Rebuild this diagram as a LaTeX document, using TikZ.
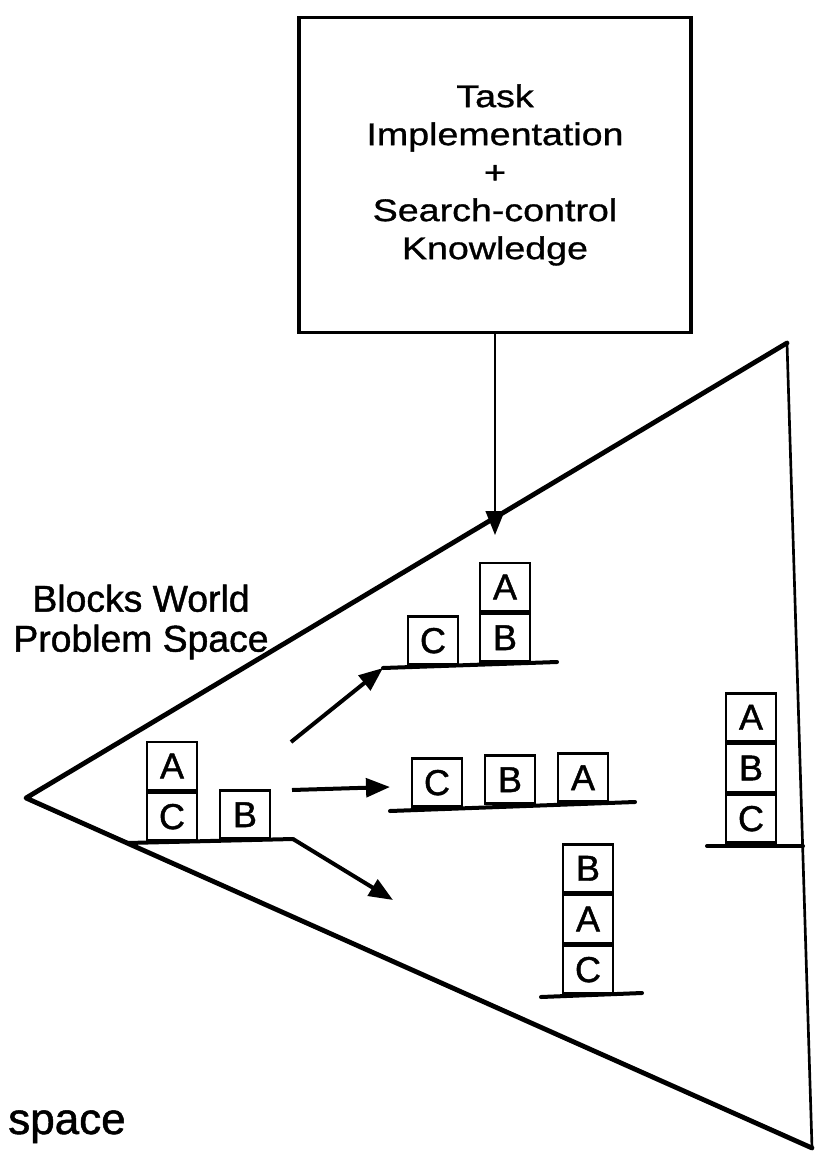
\documentclass[tikz,border=0pt]{standalone}
\usepackage{fontspec}
\setmainfont{Liberation Sans}
\newfontfamily\boxfont[FakeStretch=1.2,FakeBold=1]{Liberation Sans}
\newfontfamily\heavyfont[FakeBold=1.2]{Liberation Sans}
\usetikzlibrary{arrows.meta,calc}
\begin{document}
\begin{tikzpicture}[x=0.75pt,y=-0.75pt,
  block/.style={draw, line width=2pt, minimum width=37.5pt, minimum height=36pt, inner sep=0pt,
    font=\heavyfont\fontsize{27}{27}\selectfont},
  ground/.style={line width=3pt, line cap=round},
  arr/.style={line width=3pt, -{Triangle[length=18pt,width=14pt]}},
  varr/.style={line width=1.8pt, -{Triangle[length=18pt,width=14pt]}},
  edge/.style={line width=3.6pt, line join=round, line cap=round},
  redge/.style={line width=2pt, line cap=round}]
\useasboundingbox (0,0) rectangle (821,1152);

% task box
\node[draw, line width=2.6pt, minimum width=294pt, minimum height=236pt, align=center,
  font=\boxfont\fontsize{23.5}{28.5}\selectfont] (task) at (495,175)
  {Task\\Implementation\\+\\Search-control\\Knowledge};

% problem space triangle
\coordinate (L) at (26,798);
\coordinate (TR) at (787,343);
\coordinate (BR) at (812,1148);
\draw[edge] (TR) -- (L) -- (BR);
\draw[redge] (TR) -- (BR);

\draw[varr] (task.south) -- (task.south |- 0,535);

% label
\node[font=\heavyfont\fontsize{28}{30}\selectfont, align=center] (lbl) at (141,622) {Blocks World\\Problem Space};

% initial state
\coordinate (g1a) at (127,843);
\coordinate (g1b) at (293,839);
\node[block, anchor=south] (iC) at (172,842) {C};
\node[block, anchor=south] (iA) at (iC.north) {A};
\node[block, anchor=south] (iB) at (245,840) {B};
\draw[ground] (g1a) -- (g1b);

% top state
\coordinate (a1s) at (291,742);
\coordinate (g2a) at (383,668);
\coordinate (g2b) at (557,662);
\node[block, anchor=south] (tC) at (433,666) {C};
\node[block, anchor=south] (tB) at (505,663) {B};
\node[block, anchor=south] (tA) at (tB.north) {A};
\draw[ground] (g2a) -- (g2b);
\draw[arr] (a1s) -- (g2a);

% middle state
\coordinate (a2s) at (292,790);
\coordinate (a2e) at (390,787);
\coordinate (g3a) at (390,811);
\coordinate (g3b) at (635,802);
\node[block, anchor=south] (mC) at (437,808) {C};
\node[block, anchor=south] (mB) at (510,805) {B};
\node[block, anchor=south] (mA) at (583,803) {A};
\draw[ground] (g3a) -- (g3b);
\draw[arr] (a2s) -- (a2e);

% bottom state
\coordinate (a3e) at (393,900);
\draw[arr] (g1b) -- (a3e);
\coordinate (g4a) at (541,997);
\coordinate (g4b) at (642,993);
\node[block, anchor=south] (bC) at (588,995) {C};
\node[block, anchor=south] (bA) at (bC.north) {A};
\node[block, anchor=south] (bB) at (bA.north) {B};
\draw[ground] (g4a) -- (g4b);

% goal state
\coordinate (g5a) at (707,846);
\coordinate (g5b) at (803,846);
\node[block, anchor=south] (rC) at (751,844) {C};
\node[block, anchor=south] (rB) at (rC.north) {B};
\node[block, anchor=south] (rA) at (rB.north) {A};
\draw[ground] (g5a) -- (g5b);

% caption fragment
\node[anchor=base west, inner sep=0pt, font=\heavyfont\fontsize{33}{33}\selectfont] (sp) at (8,1134) {space};
\end{tikzpicture}
\end{document}
